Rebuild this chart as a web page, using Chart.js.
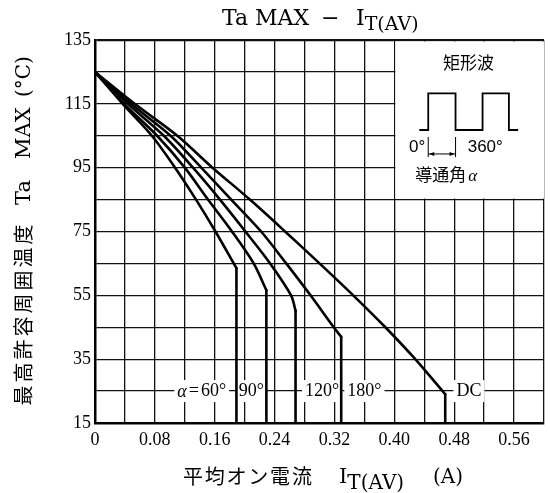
<!DOCTYPE html>
<html>
<head>
<meta charset="utf-8">
<script src="https://cdn.jsdelivr.net/npm/chart.js@4/dist/chart.umd.min.js"></script>
<style>
  html, body { margin: 0; padding: 0; background: #fff; }
</style>
</head>
<body>
<canvas id="taChart" width="550" height="493"></canvas>
<script>
// 導通角ごとの最高許容周囲温度 (x: IT(AV) [A], y: Ta MAX [°C])
// 各配列の最後の点は y=15 までの垂直な立ち下がり
const x60  = [0, 0.037, 0.076, 0.107, 0.135, 0.161, 0.189, 0.189];
const y60  = [125, 115, 105, 95, 85, 75, 63.5, 15];
const x90  = [0, 0.039, 0.083, 0.120, 0.151, 0.183, 0.212, 0.229, 0.229];
const y90  = [125, 115, 105, 95, 85, 75, 65, 56.6, 15];
const x120 = [0, 0.044, 0.092, 0.131, 0.167, 0.201, 0.234, 0.262, 0.268, 0.268];
const y120 = [125, 115, 105, 95, 85, 75, 65, 55, 50.2, 15];
const x180 = [0, 0.048, 0.101, 0.142, 0.182, 0.222, 0.2555, 0.288, 0.319, 0.329, 0.329];
const y180 = [125, 115, 105, 95, 85, 75, 65, 55, 45, 42, 15];
const xDC  = [0, 0.053, 0.110, 0.157, 0.207, 0.254, 0.300, 0.345, 0.388, 0.428, 0.468, 0.468];
const yDC  = [125, 115, 105, 95, 85, 75, 65, 55, 45, 35, 24, 15];

// カーブ名 (y=25 の行に並べる)
const curveNames = ['60°', '90°', '120°', '180°', 'DC'];
const curveNameX = [0.1426, 0.209, 0.3036, 0.36, 0.4997];
const curveNameY = 25;

// 矩形波の図 (右上の枠内)
const waveX = [0.4334, 0.4453, 0.4453, 0.4818, 0.4818, 0.5179, 0.5179, 0.5531, 0.5531, 0.5654];
const waveY = [106.8, 106.8, 118.3, 118.3, 106.8, 106.8, 118.3, 118.3, 106.8, 106.8];

const SERIF = '"Liberation Serif", "DejaVu Serif", serif';
const WIDE_SERIF = '"DejaVu Serif", serif';
const SANS = '"Liberation Sans", Arial, sans-serif';
const CJK = '"Noto Sans CJK JP", sans-serif';

function toPoints(xs, ys) {
    return xs.map((v, i) => ({ x: v, y: ys[i] }));
}

function line(label, points, tension) {
    return {
        label: label,
        data: points,
        borderColor: '#000',
        borderWidth: 2.6,
        borderCapStyle: 'round',
        pointRadius: 0,
        fill: false,
        tension: tension
    };
}

// 曲線部分はなめらかに、立ち下がりは直線で
function curve(label, xs, ys) {
    const pts = toPoints(xs, ys);
    const n = pts.length;
    return [
        line(label, pts.slice(0, n - 1), 0.3),
        line(label + ' drop', pts.slice(n - 2), 0)
    ];
}

// 文字を一片ずつ描いて次の x を返す
function piece(ctx, text, x, y, font) {
    ctx.font = font;
    ctx.fillText(text, x, y);
    return x + ctx.measureText(text).width;
}

// CJK を一定ピッチで並べる
function spaced(ctx, text, x, y, pitch, font) {
    ctx.font = font;
    ctx.textAlign = 'center';
    [...text].forEach((ch, i) => ctx.fillText(ch, x + pitch * (i + 0.5), y));
    ctx.textAlign = 'left';
}

const annotations = {
    id: 'annotations',
    beforeDatasetsDraw(chart) {
        const { ctx, chartArea, scales: { x, y } } = chart;
        ctx.save();

        // 右上の説明枠: 内側の格子を消す
        const bx = x.getPixelForValue(0.40) + 1;
        const by = y.getPixelForValue(135) + 1.5;
        ctx.fillStyle = '#fff';
        ctx.fillRect(bx, by, chartArea.right - bx, y.getPixelForValue(85) - 1 - by);

        // カーブ名 (白抜きの箱)
        const ly = y.getPixelForValue(curveNameY);
        ctx.textBaseline = 'middle';
        curveNames.forEach((name, i) => {
            const cx = x.getPixelForValue(curveNameX[i]);
            let w;
            if (i === 0) {
                ctx.font = 'italic 18px ' + SERIF;
                const wa = ctx.measureText('α').width;
                ctx.font = '18px ' + SERIF;
                w = wa + 2 + ctx.measureText('=').width + 2 + ctx.measureText('60°').width;
                ctx.fillStyle = '#fff';
                ctx.fillRect(cx - w / 2 - 3, ly - 11, w + 6, 22);
                ctx.fillStyle = '#000';
                let px = piece(ctx, 'α', cx - w / 2, ly + 1, 'italic 18px ' + SERIF) + 2;
                px = piece(ctx, '=', px, ly, '18px ' + SERIF) + 2;
                piece(ctx, '60°', px, ly, '18px ' + SERIF);
            } else {
                ctx.font = '18px ' + SERIF;
                w = ctx.measureText(name).width;
                ctx.fillStyle = '#fff';
                ctx.fillRect(cx - w / 2 - 3, ly - 11, w + 6, 22);
                ctx.fillStyle = '#000';
                ctx.fillText(name, cx - w / 2, ly);
            }
        });
        ctx.restore();
    },
    afterDraw(chart) {
        const { ctx, scales: { x, y } } = chart;
        ctx.save();
        ctx.fillStyle = '#000';
        ctx.strokeStyle = '#000';
        ctx.textBaseline = 'alphabetic';
        ctx.textAlign = 'left';

        // タイトル  Ta MAX − IT(AV)
        let px = piece(ctx, 'Ta MAX', 222, 25, '22px ' + WIDE_SERIF);
        piece(ctx, '−', 321, 25, '22px ' + WIDE_SERIF);
        px = piece(ctx, 'I', 356, 25, '22px ' + WIDE_SERIF);
        piece(ctx, 'T(AV)', px, 30, '19px ' + WIDE_SERIF);

        // 横軸タイトル
        ctx.textBaseline = 'middle';
        spaced(ctx, '平均オン電流', 182, 476, 21.8, '20px ' + CJK);
        ctx.textBaseline = 'alphabetic';
        px = piece(ctx, 'I', 339, 483, '21px ' + WIDE_SERIF);
        piece(ctx, 'T(AV)', px, 489, '20px ' + WIDE_SERIF);
        piece(ctx, '(A)', 433, 483, '20px ' + WIDE_SERIF);

        // 縦軸タイトル (下から上へ)
        ctx.save();
        ctx.translate(23, 493);
        ctx.rotate(-Math.PI / 2);
        ctx.textBaseline = 'middle';
        spaced(ctx, '最高許容周囲温度', 86, 0, 23, '20px ' + CJK);
        ctx.textBaseline = 'alphabetic';
        piece(ctx, 'Ta', 288, 7, '21px ' + WIDE_SERIF);
        piece(ctx, 'MAX', 334, 7, '21px ' + WIDE_SERIF);
        piece(ctx, '(°C)', 396, 7, '20px ' + WIDE_SERIF);
        ctx.restore();

        // 矩形波の説明
        ctx.textAlign = 'center';
        ctx.textBaseline = 'middle';
        ctx.font = '17px ' + CJK;
        ctx.fillText('矩形波', x.getPixelForValue(0.499), y.getPixelForValue(127.8));
        ctx.font = '17px ' + SANS;
        ctx.fillText('0°', x.getPixelForValue(0.4304), y.getPixelForValue(101.5));
        ctx.fillText('360°', x.getPixelForValue(0.5215), y.getPixelForValue(101.5));
        ctx.textAlign = 'left';
        const ty = y.getPixelForValue(92.7);
        px = piece(ctx, '導通角', x.getPixelForValue(0.4278), ty, '17px ' + CJK);
        piece(ctx, 'α', px + 2, ty + 2, 'italic 17px ' + SERIF);

        // 導通角の矢印
        const a0 = x.getPixelForValue(waveX[1]);
        const a1 = x.getPixelForValue(waveX[3]);
        const t0 = y.getPixelForValue(104.6);
        const t1 = y.getPixelForValue(98.3);
        const ay = y.getPixelForValue(99.3);
        ctx.lineWidth = 1;
        ctx.beginPath();
        ctx.moveTo(a0, t0); ctx.lineTo(a0, t1);
        ctx.moveTo(a1, t0); ctx.lineTo(a1, t1);
        ctx.moveTo(a0, ay); ctx.lineTo(a1, ay);
        ctx.stroke();
        ctx.beginPath();
        ctx.moveTo(a0 + 1, ay); ctx.lineTo(a0 + 6, ay - 2); ctx.lineTo(a0 + 6, ay + 2); ctx.closePath();
        ctx.moveTo(a1 - 1, ay); ctx.lineTo(a1 - 6, ay - 2); ctx.lineTo(a1 - 6, ay + 2); ctx.closePath();
        ctx.fill();
        ctx.restore();
    }
};

const ctx = document.getElementById('taChart').getContext('2d');
new Chart(ctx, {
    type: 'line',
    data: {
        datasets: [
            ...curve('60°', x60, y60),
            ...curve('90°', x90, y90),
            ...curve('120°', x120, y120),
            ...curve('180°', x180, y180),
            ...curve('DC', xDC, yDC),
            {
                label: 'wave',
                data: toPoints(waveX, waveY),
                borderColor: '#000',
                borderWidth: 1.8,
                pointRadius: 0,
                fill: false,
                tension: 0
            }
        ]
    },
    options: {
        responsive: false,
        animation: false,
        devicePixelRatio: 1,
        layout: { padding: { top: 40, right: 0, left: 0, bottom: 0 } },
        plugins: {
            legend: { display: false },
            title: { display: false },
            tooltip: { enabled: false }
        },
        scales: {
            x: {
                type: 'linear',
                min: 0,
                max: 0.6,
                afterFit: (scale) => { scale.height = 70; },
                ticks: {
                    stepSize: 0.04,
                    autoSkip: false,
                    maxRotation: 0,
                    padding: 6,
                    color: '#000',
                    font: { family: SERIF, size: 18 },
                    callback: (v, i) => i % 2 === 0 ? (v === 0 ? '0' : v.toFixed(2)) : ''
                },
                grid: { color: '#111', lineWidth: 1.3, drawTicks: false },
                border: { color: '#000', width: 2.5 }
            },
            y: {
                type: 'linear',
                min: 15,
                max: 135,
                afterFit: (scale) => { scale.width = 95; },
                ticks: {
                    stepSize: 10,
                    autoSkip: false,
                    padding: 4,
                    color: '#000',
                    font: { family: SERIF, size: 18 },
                    callback: (v) => (v - 15) % 20 === 0 ? v : ''
                },
                grid: {
                    color: '#111',
                    lineWidth: (c) => c.tick && c.tick.value === 135 ? 2.2 : 1.3,
                    drawTicks: false
                },
                border: { color: '#000', width: 2.5 }
            }
        }
    },
    plugins: [annotations]
});
</script>
</body>
</html>
